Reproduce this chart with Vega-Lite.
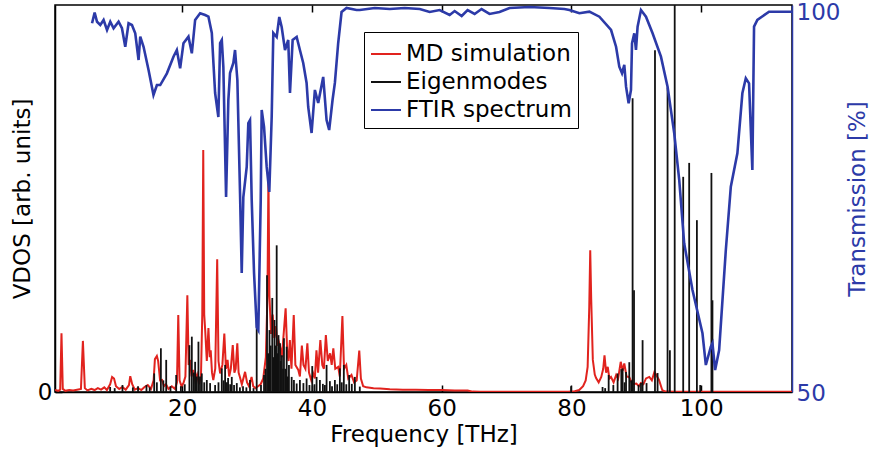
{
  "$schema": "https://vega.github.io/schema/vega-lite/v6.json",
  "width": 737,
  "height": 387,
  "autosize": {"type": "none"},
  "padding": {"left": 55, "top": 5, "right": 82, "bottom": 62},
  "background": "white",
  "config": {
    "font": "DejaVu Sans",
    "view": {"stroke": "black", "strokeWidth": 1.5}
  },
  "datasets": {
    "md": [
      {"f":0.4,"v":0.5},{"f":0.9,"v":0.3},{"f":1.2,"v":0.6},{"f":1.4,"v":15.2},{"f":1.6,"v":0.8},{"f":2.0,"v":0.3},{"f":2.6,"v":0.5},{"f":3.2,"v":0.4},{"f":3.8,"v":0.6},{"f":4.4,"v":0.8},{"f":4.7,"v":13.2},{"f":5.0,"v":1.0},{"f":5.4,"v":0.4},{"f":6.0,"v":0.8},{"f":6.5,"v":0.5},{"f":7.0,"v":1.0},{"f":7.5,"v":0.6},{"f":8.0,"v":1.2},{"f":8.4,"v":0.5},{"f":8.9,"v":2.0},{"f":9.2,"v":3.9},{"f":9.5,"v":3.5},{"f":9.8,"v":1.5},{"f":10.3,"v":0.8},{"f":10.8,"v":1.3},{"f":11.3,"v":0.6},{"f":11.8,"v":1.8},{"f":12.0,"v":4.1},{"f":12.3,"v":2.0},{"f":12.7,"v":0.6},{"f":13.2,"v":1.0},{"f":13.7,"v":0.5},{"f":14.2,"v":1.3},{"f":14.7,"v":1.8},
      {"f":15.2,"v":0.8},{"f":15.6,"v":3.0},{"f":15.8,"v":8.5},{"f":16.1,"v":9.3},{"f":16.3,"v":8.0},{"f":16.6,"v":3.0},{"f":16.9,"v":3.1},{"f":17.2,"v":1.5},{"f":17.5,"v":2.0},{"f":17.9,"v":0.8},{"f":18.4,"v":1.5},{"f":18.9,"v":0.8},{"f":19.2,"v":2.5},{"f":19.4,"v":19.9},{"f":19.6,"v":3.0},{"f":19.9,"v":1.5},{"f":20.2,"v":2.3},{"f":20.5,"v":4.0},{"f":20.8,"v":25.0},{"f":21.0,"v":7.0},{"f":21.2,"v":8.3},{"f":21.45,"v":4.0},{"f":21.7,"v":5.7},{"f":22.0,"v":3.0},{"f":22.3,"v":4.5},{"f":22.6,"v":2.0},{"f":22.9,"v":4.0},{"f":23.1,"v":20.0},{"f":23.25,"v":62.5},{"f":23.4,"v":20.0},{"f":23.55,"v":16.0},{"f":23.8,"v":8.0},{"f":24.05,"v":16.5},{"f":24.25,"v":9.0},{"f":24.4,"v":10.8},{"f":24.6,"v":5.0},{"f":24.8,"v":3.1},{"f":25.1,"v":6.0},{"f":25.4,"v":34.3},{"f":25.6,"v":8.0},{"f":25.85,"v":4.8},{"f":26.2,"v":7.0},{"f":26.5,"v":15.1},{"f":26.75,"v":6.0},{"f":27.0,"v":8.3},{"f":27.25,"v":4.0},{"f":27.5,"v":6.0},{"f":27.8,"v":12.1},{"f":28.05,"v":5.0},{"f":28.25,"v":6.0},{"f":28.5,"v":12.6},{"f":28.7,"v":5.0},{"f":28.9,"v":3.9},{"f":29.2,"v":2.0},{"f":29.7,"v":5.2},{"f":30.0,"v":2.5},{"f":30.3,"v":1.5},{"f":30.7,"v":3.9},{"f":30.95,"v":1.5},{"f":31.3,"v":1.0},{"f":31.7,"v":1.5},{"f":32.1,"v":2.0},{"f":32.5,"v":3.5},{"f":32.9,"v":9.0},{"f":33.15,"v":25.0},{"f":33.3,"v":56.5},{"f":33.45,"v":25.0},{"f":33.7,"v":15.0},{"f":33.95,"v":20.0},{"f":34.2,"v":14.0},{"f":34.45,"v":17.0},{"f":34.7,"v":12.0},{"f":34.9,"v":13.0},{"f":35.1,"v":11.7},{"f":35.35,"v":9.0},{"f":35.6,"v":14.0},{"f":35.95,"v":21.6},{"f":36.2,"v":10.0},{"f":36.4,"v":8.0},{"f":36.6,"v":13.4},{"f":36.85,"v":6.0},{"f":37.2,"v":19.9},{"f":37.45,"v":7.0},{"f":37.9,"v":5.7},{"f":38.15,"v":4.0},{"f":38.45,"v":12.0},{"f":38.7,"v":7.0},{"f":39.0,"v":6.0},{"f":39.3,"v":12.6},{"f":39.55,"v":5.0},{"f":39.9,"v":3.0},{"f":40.2,"v":4.8},{"f":40.45,"v":3.5},{"f":40.7,"v":10.8},{"f":40.95,"v":5.0},{"f":41.3,"v":13.4},{"f":41.6,"v":7.0},{"f":41.85,"v":6.0},{"f":42.15,"v":14.7},{"f":42.45,"v":8.0},{"f":42.8,"v":10.0},{"f":43.05,"v":7.0},{"f":43.3,"v":11.3},{"f":43.6,"v":6.0},{"f":44.05,"v":6.5},{"f":44.3,"v":4.0},{"f":44.7,"v":19.6},{"f":44.95,"v":6.0},{"f":45.3,"v":7.0},{"f":45.6,"v":3.5},{"f":46.1,"v":4.4},{"f":46.5,"v":2.5},{"f":46.9,"v":3.0},{"f":47.3,"v":10.7},{"f":47.55,"v":3.5},{"f":47.9,"v":1.5},{"f":48.4,"v":1.2},{"f":49.5,"v":1.0},{"f":50.5,"v":0.9},{"f":52,"v":0.7},{"f":54,"v":0.6},{"f":56,"v":0.6},{"f":58,"v":0.5},{"f":60,"v":0.5},{"f":62,"v":0.4},{"f":64,"v":0.4},{"f":64.8,"v":0.1},{"f":66,"v":0.05},{"f":79.5,"v":0.05},
      {"f":80.5,"v":0.2},{"f":81.2,"v":0.5},{"f":81.8,"v":1.5},{"f":82.2,"v":3.0},{"f":82.5,"v":6.5},{"f":82.75,"v":22.0},{"f":82.9,"v":36.6},{"f":83.05,"v":24.0},{"f":83.3,"v":8.3},{"f":83.6,"v":4.5},{"f":83.8,"v":3.6},{"f":84.2,"v":2.5},{"f":84.6,"v":3.9},{"f":84.9,"v":6.0},{"f":85.1,"v":9.5},{"f":85.35,"v":5.0},{"f":85.6,"v":6.5},{"f":85.85,"v":3.5},{"f":86.1,"v":3.9},{"f":86.5,"v":2.5},{"f":86.9,"v":4.4},{"f":87.2,"v":3.5},{"f":87.6,"v":7.8},{"f":87.9,"v":5.5},{"f":88.15,"v":7.4},{"f":88.5,"v":4.0},{"f":88.9,"v":3.9},{"f":89.4,"v":2.0},{"f":90.0,"v":2.2},{"f":90.4,"v":1.5},{"f":90.7,"v":2.3},{"f":91.1,"v":2.0},{"f":91.5,"v":3.5},{"f":92.0,"v":3.9},{"f":92.4,"v":3.0},{"f":92.8,"v":5.2},{"f":93.2,"v":4.0},{"f":93.5,"v":3.1},{"f":94.0,"v":0.5},{"f":94.5,"v":0.1},{"f":96,"v":0.05},{"f":114,"v":0.05}
    ],
    "eig": [
      {"f":8.9,"v":1.3},{"f":9.6,"v":1.0},{"f":10.8,"v":1.8},{"f":12.4,"v":1.2},{"f":13.2,"v":1.5},{"f":14.5,"v":1.8},{"f":15.0,"v":1.2},{"f":15.69,"v":4.8},{"f":16.1,"v":2.5},{"f":16.72,"v":11.3},{"f":17.1,"v":3.0},{"f":17.54,"v":8.3},{"f":18.2,"v":1.5},{"f":19.08,"v":4.4},{"f":19.8,"v":1.5},{"f":20.4,"v":2.0},{"f":21.12,"v":12.1},{"f":21.49,"v":14.3},{"f":21.8,"v":5.0},{"f":22.0,"v":7.8},{"f":22.25,"v":4.0},{"f":22.51,"v":13.0},{"f":22.75,"v":4.0},{"f":23.03,"v":4.8},{"f":23.4,"v":2.5},{"f":23.8,"v":3.1},{"f":24.31,"v":2.3},{"f":25.08,"v":1.8},{"f":25.6,"v":2.5},{"f":26.11,"v":6.1},{"f":26.4,"v":3.0},{"f":26.62,"v":7.0},{"f":26.9,"v":2.5},{"f":27.08,"v":3.6},{"f":27.4,"v":2.0},{"f":27.65,"v":3.9},{"f":28.0,"v":1.8},{"f":28.42,"v":2.3},{"f":28.9,"v":1.2},{"f":29.38,"v":1.5},{"f":29.9,"v":1.2},{"f":30.46,"v":3.1},{"f":31.0,"v":1.0},{"f":31.49,"v":18.6},{"f":32.15,"v":1.8},{"f":32.62,"v":4.4},{"f":32.85,"v":6.0},{"f":33.08,"v":30.2},{"f":33.25,"v":10.0},{"f":33.46,"v":16.0},{"f":33.65,"v":12.0},{"f":33.89,"v":24.3},{"f":34.05,"v":9.0},{"f":34.23,"v":18.6},{"f":34.4,"v":12.0},{"f":34.57,"v":37.9},{"f":34.7,"v":10.0},{"f":34.85,"v":14.7},{"f":35.08,"v":12.6},{"f":35.2,"v":8.0},{"f":35.38,"v":9.5},{"f":35.55,"v":6.0},{"f":35.69,"v":13.9},{"f":35.9,"v":6.0},{"f":36.11,"v":11.7},{"f":36.3,"v":4.0},{"f":36.46,"v":7.0},{"f":36.88,"v":3.9},{"f":37.23,"v":3.1},{"f":37.65,"v":2.2},{"f":38.15,"v":3.1},{"f":38.69,"v":2.3},{"f":39.18,"v":3.5},{"f":39.62,"v":1.8},{"f":40.05,"v":6.7},{"f":40.4,"v":2.0},{"f":40.72,"v":3.9},{"f":41.23,"v":3.1},{"f":41.69,"v":2.1},{"f":42.0,"v":1.8},{"f":42.26,"v":7.0},{"f":42.77,"v":2.8},{"f":43.1,"v":1.5},{"f":43.54,"v":3.1},{"f":43.9,"v":2.0},{"f":44.31,"v":6.1},{"f":44.6,"v":2.5},{"f":44.92,"v":7.0},{"f":45.3,"v":2.0},{"f":45.74,"v":4.4},{"f":46.15,"v":2.1},{"f":46.62,"v":3.9},{"f":47.38,"v":1.4},
      {"f":79.95,"v":1.5},{"f":84.8,"v":1.3},{"f":85.2,"v":1.0},{"f":85.74,"v":4.4},{"f":86.46,"v":1.8},{"f":87.12,"v":4.8},{"f":87.69,"v":5.9},{"f":87.89,"v":6.1},{"f":88.2,"v":2.5},{"f":88.42,"v":5.2},{"f":88.92,"v":7.7},{"f":89.2,"v":3.0},{"f":89.43,"v":75.9},{"f":89.65,"v":26.3},{"f":90.35,"v":1.8},{"f":90.72,"v":2.3},{"f":90.97,"v":13.4},{"f":91.58,"v":2.3},{"f":92.88,"v":88.3},{"f":93.28,"v":4.9},{"f":94.82,"v":78.7},{"f":95.18,"v":10.8},{"f":95.92,"v":110},{"f":97.23,"v":55.6},{"f":98.15,"v":59.2},{"f":99.34,"v":44.4},{"f":99.85,"v":1.8},{"f":101.58,"v":56.6},{"f":101.74,"v":23.7}
    ],
    "ftir": [
      {"f":6.11,"t":98.51},{"f":6.51,"t":99.91},{"f":6.88,"t":98.72},{"f":7.38,"t":98.29},{"f":7.89,"t":98.95},{"f":8.42,"t":97.63},{"f":8.92,"t":98.72},{"f":9.43,"t":97.86},{"f":10.2,"t":98.72},{"f":10.72,"t":97.86},{"f":11.23,"t":95.43},{"f":11.74,"t":98.51},{"f":12.26,"t":98.29},{"f":12.77,"t":97.2},{"f":13.28,"t":93.68},{"f":13.54,"t":96.75},{"f":14.05,"t":95.43},{"f":14.82,"t":92.37},{"f":15.58,"t":89.08},{"f":16.11,"t":90.39},{"f":16.62,"t":90.39},{"f":17.65,"t":91.93},{"f":18.66,"t":94.12},{"f":19.18,"t":95.0},{"f":19.69,"t":92.59},{"f":20.2,"t":95.88},{"f":20.97,"t":96.75},{"f":21.49,"t":94.57},{"f":22.0,"t":98.95},{"f":22.77,"t":99.83},{"f":23.54,"t":99.6},{"f":24.05,"t":99.38},{"f":24.57,"t":97.24},{"f":24.82,"t":93.29},{"f":25.08,"t":89.34},{"f":25.58,"t":86.18},{"f":25.85,"t":95.92},{"f":26.11,"t":96.32},{"f":26.35,"t":92.76},{"f":26.77,"t":75.66},{"f":27.12,"t":88.42},{"f":27.38,"t":91.97},{"f":27.89,"t":93.29},{"f":28.15,"t":95.0},{"f":28.51,"t":91.05},{"f":28.92,"t":76.18},{"f":29.18,"t":65.66},{"f":29.43,"t":75.66},{"f":29.95,"t":79.61},{"f":30.2,"t":85.39},{"f":30.46,"t":85.79},{"f":30.72,"t":75.26},{"f":31.08,"t":65.66},{"f":31.49,"t":58.55},{"f":31.74,"t":58.16},{"f":32.11,"t":75.26},{"f":32.26,"t":87.11},{"f":32.62,"t":84.87},{"f":33.03,"t":79.61},{"f":33.43,"t":76.32},{"f":33.8,"t":86.18},{"f":34.05,"t":97.24},{"f":34.57,"t":96.71},{"f":34.97,"t":99.34},{"f":35.34,"t":98.03},{"f":35.85,"t":95.0},{"f":36.35,"t":96.32},{"f":36.62,"t":89.34},{"f":37.03,"t":96.32},{"f":37.65,"t":96.71},{"f":38.15,"t":95.0},{"f":38.66,"t":93.29},{"f":39.18,"t":90.66},{"f":39.43,"t":87.5},{"f":39.95,"t":84.08},{"f":40.46,"t":89.74},{"f":40.97,"t":88.03},{"f":41.74,"t":91.45},{"f":42.26,"t":85.79},{"f":42.66,"t":84.47},{"f":43.18,"t":88.42},{"f":43.54,"t":90.66},{"f":44.05,"t":95.92},{"f":44.57,"t":100.0},{"f":45.34,"t":100.53},{"f":46.88,"t":100.26},{"f":47.38,"t":100.26},{"f":49.69,"t":100.53},{"f":52.0,"t":100.39},{"f":54.31,"t":100.53},{"f":56.62,"t":100.39},{"f":58.15,"t":100.0},{"f":59.69,"t":100.26},{"f":61.23,"t":99.61},{"f":62.0,"t":100.13},{"f":63.08,"t":99.47},{"f":64.0,"t":100.26},{"f":65.08,"t":99.74},{"f":66.15,"t":100.39},{"f":67.38,"t":99.74},{"f":68.92,"t":100.0},{"f":70.46,"t":100.53},{"f":73.54,"t":100.66},{"f":76.62,"t":100.53},{"f":78.92,"t":100.39},{"f":79.69,"t":100.26},{"f":81.23,"t":99.83},{"f":82.77,"t":100.04},{"f":84.31,"t":99.38},{"f":86.11,"t":97.63},{"f":86.88,"t":95.43},{"f":87.38,"t":92.8},{"f":87.8,"t":91.93},{"f":88.15,"t":93.03},{"f":88.42,"t":90.17},{"f":88.82,"t":87.99},{"f":89.18,"t":89.74},{"f":89.34,"t":95.88},{"f":89.69,"t":97.2},{"f":89.95,"t":95.0},{"f":90.2,"t":98.07},{"f":90.72,"t":100.26},{"f":91.49,"t":99.38},{"f":92.51,"t":97.2},{"f":93.8,"t":94.12},{"f":94.82,"t":90.17},{"f":95.85,"t":84.04},{"f":96.62,"t":77.89},{"f":97.38,"t":69.57},{"f":98.66,"t":63.42},{"f":100.2,"t":57.72},{"f":100.72,"t":53.55},{"f":101.49,"t":55.96},{"f":101.74,"t":56.41},{"f":102.15,"t":52.89},{"f":102.77,"t":55.53},{"f":103.8,"t":68.68},{"f":104.57,"t":77.01},{"f":105.58,"t":81.41},{"f":106.35,"t":89.3},{"f":106.88,"t":91.28},{"f":107.38,"t":90.62},{"f":107.89,"t":79.21},{"f":108.15,"t":98.07},{"f":108.66,"t":98.95},{"f":110.46,"t":100.04},{"f":114.0,"t":100.04}
    ]
  },
  "layer": [
    {
      "layer": [
        {
          "data": {"name": "md"},
          "mark": {"type": "line", "strokeWidth": 2, "clip": true},
          "encoding": {
            "x": {"field": "f", "type": "quantitative",
              "scale": {"domain": [0.4, 114], "nice": false, "zero": false},
              "axis": {"orient": "bottom", "values": [20, 40, 60, 80, 100], "title": "Frequency [THz]", "titleFontSize": 23, "titleFontWeight": "normal", "titleColor": "black", "labelFontSize": 23, "labelColor": "black", "tickSize": -7, "tickWidth": 1.5, "tickColor": "black", "domainColor": "black", "domainWidth": 1.5, "labelPadding": 12, "titlePadding": 3, "grid": false}},
            "y": {"field": "v", "type": "quantitative",
              "scale": {"domain": [0, 100], "nice": false},
              "axis": {"orient": "left", "values": [0], "title": "VDOS [arb. units]", "titleFontSize": 23, "titleFontWeight": "normal", "titleColor": "black", "labelFontSize": 23, "labelColor": "black", "tickSize": -7, "tickWidth": 1.5, "tickColor": "black", "domainColor": "black", "domainWidth": 1.5, "labelPadding": 10, "titlePadding": 3, "grid": false}},
            "color": {"datum": "MD simulation", "type": "nominal",
              "scale": {"domain": ["MD simulation", "Eigenmodes", "FTIR spectrum"], "range": ["#E1231E", "#111111", "#2C3AA8"]},
              "legend": {"orient": "none", "legendX": 309, "legendY": 27, "title": null, "symbolType": "stroke", "symbolSize": 900, "symbolStrokeWidth": 2, "labelFontSize": 23, "labelColor": "black", "labelOffset": 4, "labelLimit": 400, "rowPadding": -2, "padding": 6, "strokeColor": "black", "fillColor": "white"}}
          }
        },
        {
          "data": {"name": "eig"},
          "mark": {"type": "rule", "strokeWidth": 1.8, "clip": true},
          "encoding": {
            "x": {"field": "f", "type": "quantitative", "scale": {"domain": [0.4, 114], "nice": false, "zero": false}},
            "y": {"field": "v", "type": "quantitative"},
            "y2": {"datum": 0},
            "color": {"datum": "Eigenmodes", "type": "nominal"}
          }
        }
      ]
    },
    {
      "data": {"name": "ftir"},
      "mark": {"type": "line", "strokeWidth": 2.6, "clip": true},
      "encoding": {
        "x": {"field": "f", "type": "quantitative",
          "scale": {"domain": [0.4, 114], "nice": false, "zero": false},
          "axis": {"orient": "top", "values": [20, 40, 60, 80, 100], "labels": false, "title": null, "tickSize": -7, "tickWidth": 1.5, "tickColor": "black", "domain": false, "grid": false}},
        "y": {"field": "t", "type": "quantitative",
          "scale": {"domain": [50, 100.92], "nice": false, "zero": false},
          "axis": {"orient": "right", "values": [50, 100], "title": "Transmission [%]", "titleAngle": -90, "titleBaseline": "top", "titleFontSize": 23, "titleFontWeight": "normal", "titleColor": "#2C3AA8", "labelFontSize": 23, "labelColor": "#2C3AA8", "labelOffset": 1, "ticks": false, "labelPadding": 4, "titlePadding": 7, "domainColor": "#2C3AA8", "domainWidth": 1.5, "grid": false}},
        "color": {"datum": "FTIR spectrum", "type": "nominal"}
      }
    }
  ],
  "resolve": {"scale": {"y": "independent"}}
}
